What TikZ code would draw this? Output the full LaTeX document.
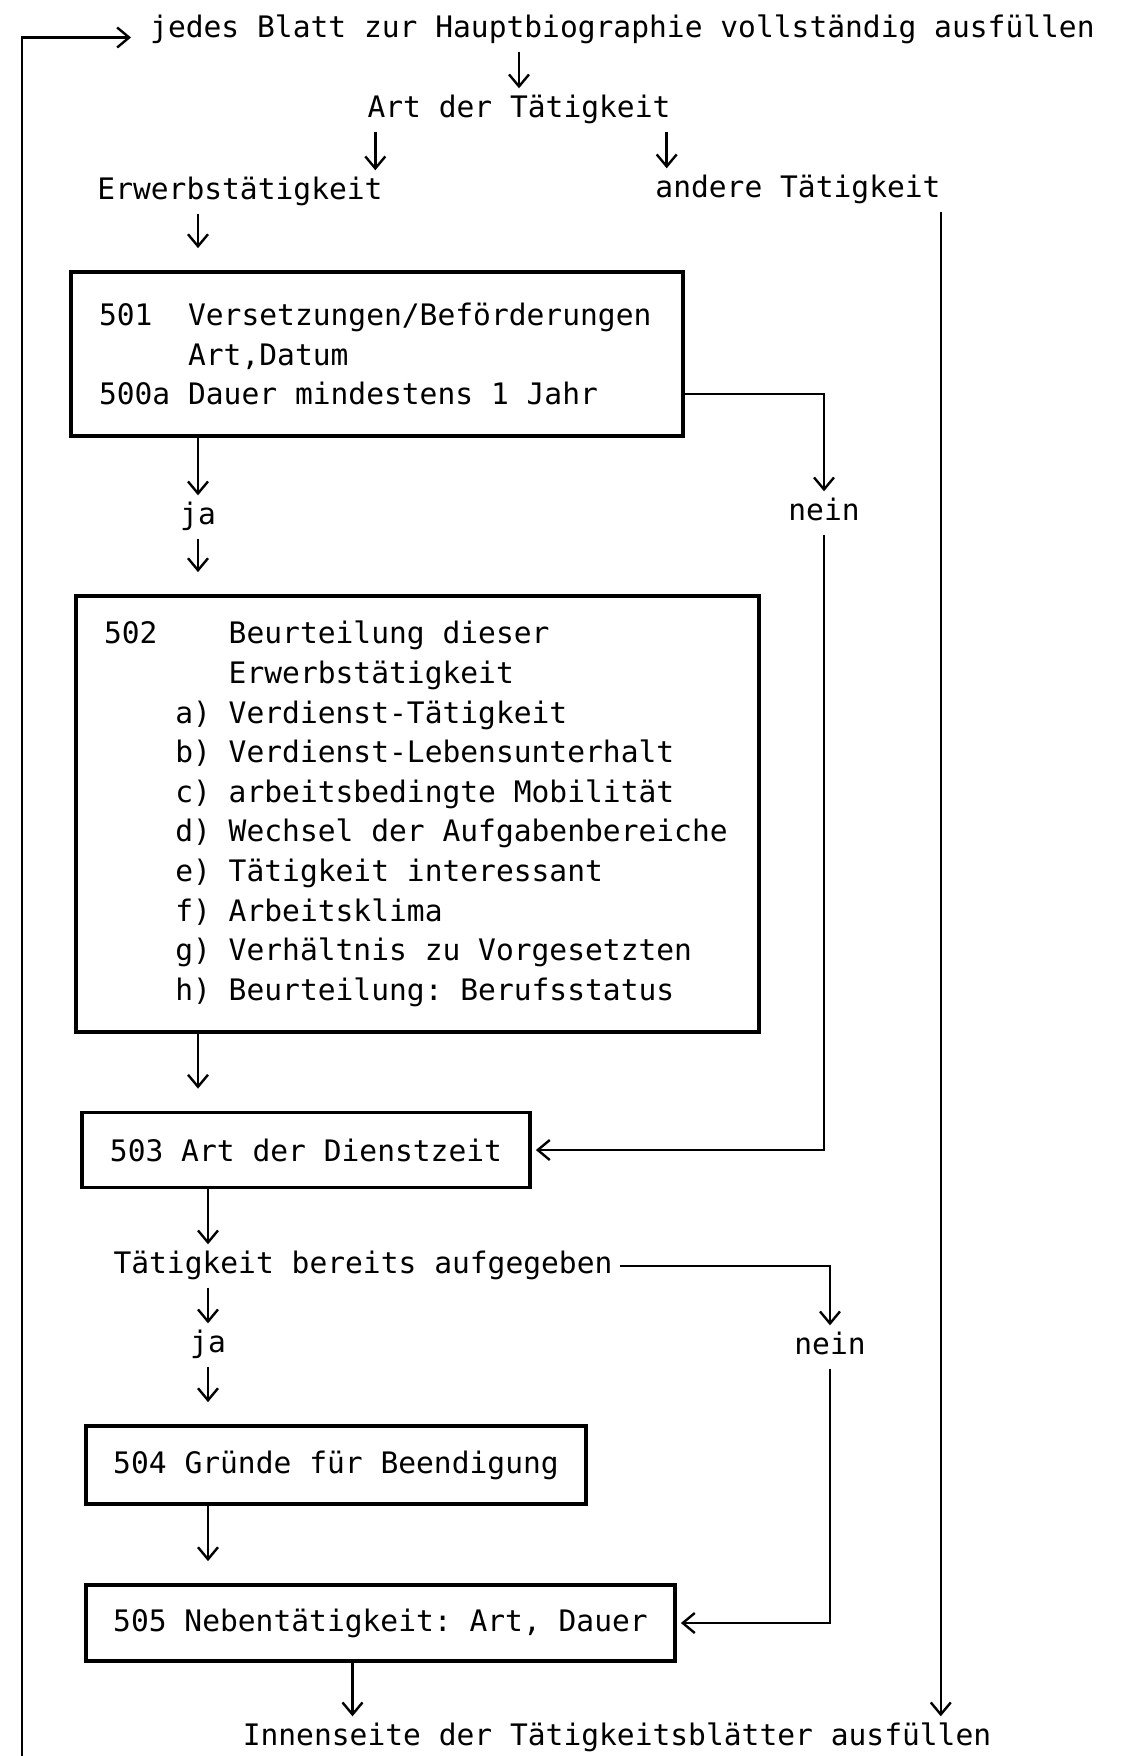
\documentclass[tikz,border=0pt]{standalone}
\usepackage{fontspec}
\setmonofont{DejaVu Sans Mono}
\usetikzlibrary{arrows.meta}
\newcommand{\skipcols}[1]{\hspace*{#1\fontcharwd\font`M}}

\begin{document}
\begin{tikzpicture}[x=0.5pt,y=-0.5pt,
  font=\ttfamily\fontsize{14.8}{19.8}\selectfont,
  line width=1.2pt,
  lbl/.style={inner sep=3pt,text height=11pt,text depth=3.5pt},
  box/.style={draw,line width=1.9pt,inner sep=0pt,
    execute at begin node={\spaceskip=\fontcharwd\font`M\relax\xspaceskip=\spaceskip}},
  arr/.style={-{Straight Barb[length=6pt,width=10pt]}},
  tobox/.style={arr,shorten >=11pt}]
\useasboundingbox (0,0) rectangle (1121,1756);

% labels and boxes, top to bottom
\node[lbl,anchor=west] (top) at (143,30) {jedes Blatt zur Hauptbiographie vollständig ausfüllen};
\node[lbl] (art) at (519,110) {Art der Tätigkeit};
\node[lbl] (erw) at (240,192) {Erwerbstätigkeit};
\node[lbl] (andere) at (798,190) {andere Tätigkeit};
\node[box,inner xsep=14pt,text width=278pt,minimum height=82pt,align=left] (b501) at (377,354) {%
501\skipcols{2}Versetzungen/Beförderungen\\
\skipcols{5}Art,Datum\\
500a Dauer mindestens 1 Jahr};
\node[lbl] (ja1) at (198,517) {ja};
\node[lbl] (nein1) at (824,513) {nein};
\node[box,inner xsep=14pt,text width=313.5pt,minimum height=218pt,align=left] (b502) at (417.5,814) {%
502\skipcols{4}Beurteilung dieser\\
\skipcols{7}Erwerbstätigkeit\\
\skipcols{4}a) Verdienst-Tätigkeit\\
\skipcols{4}b) Verdienst-Lebensunterhalt\\
\skipcols{4}c) arbeitsbedingte Mobilität\\
\skipcols{4}d) Wechsel der Aufgabenbereiche\\
\skipcols{4}e) Tätigkeit interessant\\
\skipcols{4}f) Arbeitsklima\\
\skipcols{4}g) Verhältnis zu Vorgesetzten\\
\skipcols{4}h) Beurteilung: Berufsstatus};
\node[box,minimum width=224pt,minimum height=37.5pt] (b503) at (306,1150) {503 Art der Dienstzeit};
\node[lbl] (aufg) at (363,1266) {Tätigkeit bereits aufgegeben};
\node[lbl] (ja2) at (208,1345) {ja};
\node[lbl] (nein2) at (830,1347) {nein};
\node[box,minimum width=250pt,minimum height=39pt] (b504) at (336,1465) {504 Gründe für Beendigung};
\node[box,minimum width=294.5pt,minimum height=38pt] (b505) at (380.5,1623) {505 Nebentätigkeit: Art, Dauer};
\node[lbl] (innen) at (617,1738) {Innenseite der Tätigkeitsblätter ausfüllen};
\coordinate (back) at (22,1756);

% connectors
\draw[arr,shorten >=6pt] (back) |- (top.base west);
\draw[arr] (art.north |- top.south) -- (art);
\draw[arr] ([xshift=7.5pt]art.south west) -- ([xshift=7.5pt]art.south west |- erw.north);
\draw[arr] ([xshift=-5.5pt]art.south east) -- ([xshift=-5.5pt]art.south east |- andere.north);
\draw[tobox] (erw.south -| ja1) -- (b501.north -| ja1);
\draw[arr] (b501.south -| ja1) -- (ja1);
\draw[tobox] (ja1) -- (b502.north -| ja1);
\draw[arr] ([yshift=-20pt]b501.east) -| (nein1);
\draw[arr,shorten >=2pt] (nein1) |- (b503);
\draw[tobox] (b502.south -| ja1) -- (b503.north -| ja1);
\draw[arr] (b503.south -| ja2) -- (aufg.north -| ja2);
\draw[arr] (aufg) -| (nein2);
\draw[arr] (aufg.south -| ja2) -- (ja2);
\draw[tobox] (ja2) -- (b504.north -| ja2);
\draw[tobox] (b504.south -| ja2) -- (b505.north -| ja2);
\draw[arr,shorten >=2pt] (nein2) |- (b505);
\draw[arr] ([xshift=-14pt]b505.south) -- ([xshift=-14pt]b505.south |- innen.north);
\draw[arr] ([xshift=-3.5pt]andere.south east) -- ([xshift=-3.5pt]andere.south east |- innen.north);
\end{tikzpicture}
\end{document}
